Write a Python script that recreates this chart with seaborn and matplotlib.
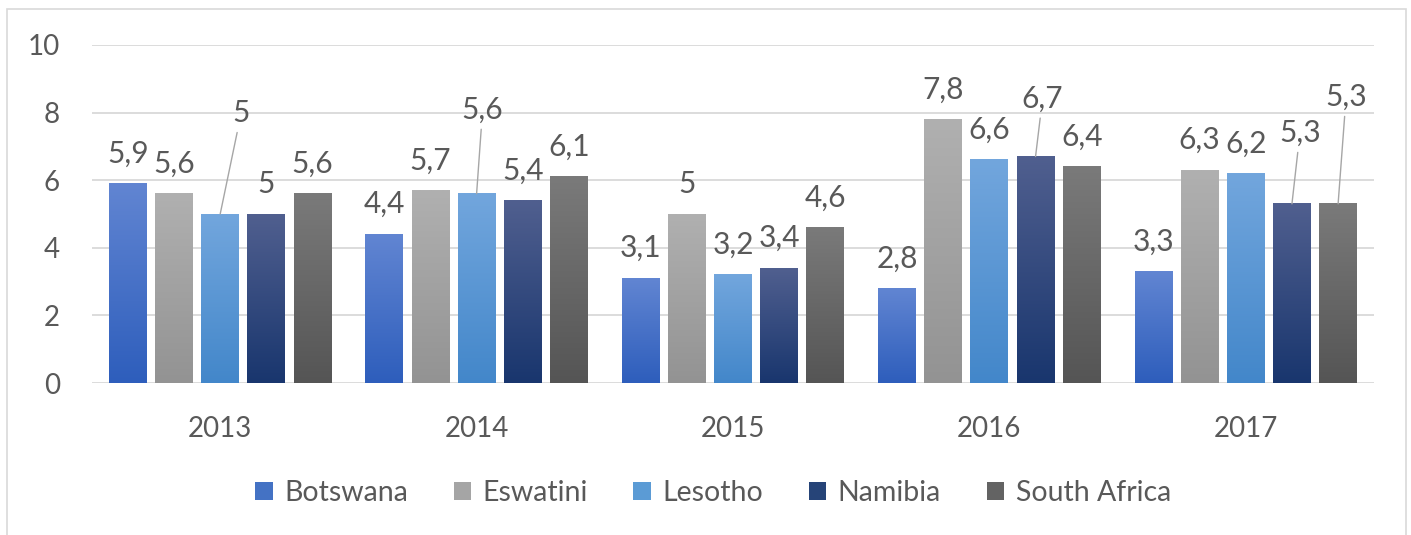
import numpy as np
import pandas as pd
import matplotlib
matplotlib.use("Agg")
import matplotlib.pyplot as plt
import seaborn as sns
from matplotlib.colors import LinearSegmentedColormap
from matplotlib.patches import Rectangle, Patch

# data
years = ["2013", "2014", "2015", "2016", "2017"]
countries = ["Botswana", "Eswatini", "Lesotho", "Namibia", "South Africa"]
botswana = [5.9, 4.4, 3.1, 2.8, 3.3]
eswatini = [5.6, 5.7, 5.0, 7.8, 6.3]
lesotho = [5.0, 5.6, 3.2, 6.6, 6.2]
namibia = [5.0, 5.4, 3.4, 6.7, 5.3]
south_africa = [5.6, 6.1, 4.6, 6.4, 5.3]

df = pd.DataFrame({
    "year": years * 5,
    "country": np.repeat(countries, len(years)),
    "value": botswana + eswatini + lesotho + namibia + south_africa,
})

# gradient colours (top, bottom) per series
grads = {
    "Botswana": ("#6185D2", "#2E5EBC"),
    "Eswatini": ("#B0B0B0", "#939393"),
    "Lesotho": ("#72A6DD", "#4387CA"),
    "Namibia": ("#505F8F", "#19366E"),
    "South Africa": ("#7A7A7A", "#555555"),
}
palette = {"Botswana": "#4472C4", "Eswatini": "#A5A5A5", "Lesotho": "#5B9BD5",
           "Namibia": "#264478", "South Africa": "#636363"}

# labels that sit away from their bar, with leader lines (pixel offsets)
leader = {
    ("Lesotho", "2013"): (21, 101),
    ("Lesotho", "2014"): (6, 84),
    ("Namibia", "2016"): (7, 58),
    ("Namibia", "2017"): (8, 71),
    ("South Africa", "2017"): (8, 107),
}

txt = "#595959"
plt.rcParams["font.family"] = ["Lato", "DejaVu Sans"]

fig = plt.figure(figsize=(14.11, 5.35), dpi=100)
ax = fig.add_axes([92 / 1411, 152 / 535, 1282 / 1411, 338 / 535])

sns.barplot(data=df, x="year", y="value", hue="country", palette=palette,
            width=0.9, gap=0.18, ax=ax, legend=False, saturation=1)

for country, cont in zip(countries, ax.containers):
    top, bot = grads[country]
    cmap = LinearSegmentedColormap.from_list(country, [bot, top])
    for year, bar in zip(years, cont):
        x, w, h = bar.get_x(), bar.get_width(), bar.get_height()
        ax.imshow(np.linspace(0, 1, 100).reshape(-1, 1), cmap=cmap, origin="lower",
                  extent=[x, x + w, 0, h], aspect="auto", zorder=3)
        label = f"{h:g}".replace(".", ",")
        cx = x + w / 2
        if (country, year) in leader:
            dx, dy = leader[(country, year)]
            ax.annotate(label, xy=(cx, h), xytext=(dx, dy), textcoords="offset pixels",
                        ha="center", va="center", fontsize=21.5, color=txt,
                        arrowprops=dict(arrowstyle="-", color="#a6a6a6", lw=1,
                                        shrinkA=2, shrinkB=0))
        else:
            ax.annotate(label, xy=(cx, h), xytext=(0, 30), textcoords="offset pixels",
                        ha="center", va="center", fontsize=21.5, color=txt)

ax.set_xlim(-0.5, 4.5)
ax.set_ylim(0, 10)
ax.set_yticks([0, 2, 4, 6, 8, 10])
ax.grid(axis="y", color="#d9d9d9", lw=1.3)
ax.set_axisbelow(True)
for s in ax.spines.values():
    s.set_visible(False)
ax.set_xlabel("")
ax.set_ylabel("")
ax.tick_params(axis="both", length=0, labelsize=20, labelcolor=txt)
ax.tick_params(axis="y", pad=23)
ax.tick_params(axis="x", pad=24)

handles = [Patch(facecolor=palette[c], label=c) for c in countries]
fig.legend(handles=handles, loc="center", bbox_to_anchor=(713 / 1411, 1 - 493 / 535),
           ncol=5, frameon=False, fontsize=20.5, labelcolor=txt,
           handlelength=0.62, handleheight=0.62, handletextpad=0.4, columnspacing=1.6)

# chart-area border
fig.patches.append(Rectangle((7 / 1411, -0.05), 1399 / 1411, 1.05 - 9 / 535,
                             transform=fig.transFigure, fill=False,
                             edgecolor="#d9d9d9", lw=1.2))

plt.savefig("out.png", dpi=100)
